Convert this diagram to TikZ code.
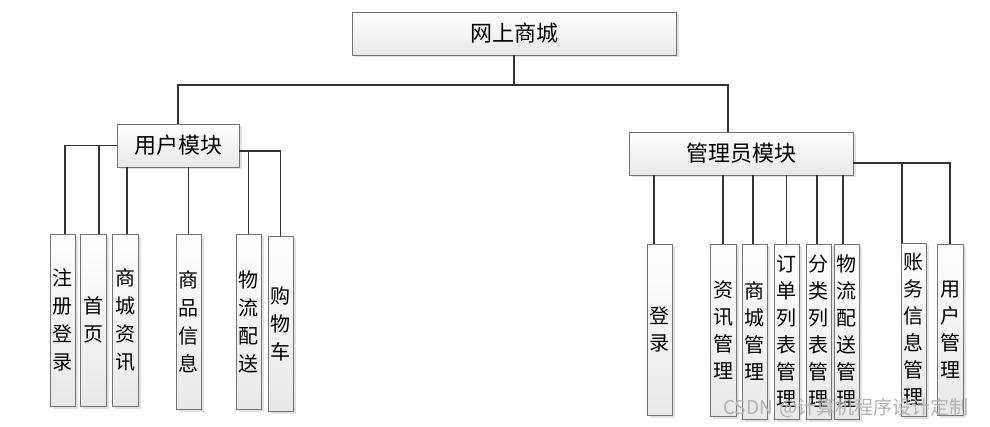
\documentclass[tikz,border=0pt]{standalone}
\usepackage{fontspec}
\setmainfont{Noto Sans CJK SC}
\usetikzlibrary{shadows}
\begin{document}
\begin{tikzpicture}[x=1pt,y=-1pt,
  box/.style={draw=black!55, line width=0.9pt, top color=white, bottom color=black!9,
    inner sep=0pt, drop shadow={shadow xshift=2.5pt, shadow yshift=-2.5pt, fill=black!22},
    font=\fontsize{22}{26}\selectfont},
  vbox/.style={box, align=center, font=\fontsize{20}{28}\selectfont},
  vboxr/.style={box, align=center, font=\fontsize{20}{27}\selectfont},
  link/.style={draw=black!80, line width=1.1pt}]
\useasboundingbox[fill=white] (0,0) rectangle (990,427);
% top levels
\node[box, minimum width=324pt, minimum height=43pt] (root) at (514,33.5) {网上商城};
\node[box, minimum width=122pt, minimum height=43pt] (user) at (178,145.5) {用户模块};
\node[box, minimum width=224pt, minimum height=43pt] (admin) at (741,153.5) {管理员模块};
% user children
\node[vbox, minimum width=25pt, minimum height=172pt] (c1) at (62.5,320) {注\\册\\登\\录};
\node[vbox, minimum width=26pt, minimum height=172pt] (c2) at (93,320) {首\\页};
\node[vbox, minimum width=26pt, minimum height=172pt] (c3) at (125,320) {商\\城\\资\\讯};
\node[vbox, minimum width=25pt, minimum height=175pt] (c4) at (188.5,321.5) {商\\品\\信\\息};
\node[vbox, minimum width=25pt, minimum height=175pt] (c5) at (248.5,321.5) {物\\流\\配\\送};
\node[vbox, minimum width=25pt, minimum height=175pt] (c6) at (280.5,323.5) {购\\物\\车};
% admin children
\node[vboxr, minimum width=25pt, minimum height=171pt] (a1) at (659.5,329.5) {登\\录};
\node[vboxr, minimum width=26pt, minimum height=172pt] (a2) at (723,330) {资\\讯\\管\\理};
\node[vboxr, minimum width=25pt, minimum height=175pt] (a3) at (754.5,331.5) {商\\城\\管\\理};
\node[vboxr, minimum width=25pt, minimum height=175pt] (a4) at (786.5,331.5) {订\\单\\列\\表\\管\\理};
\node[vboxr, minimum width=25pt, minimum height=175pt] (a5) at (818.5,331.5) {分\\类\\列\\表\\管\\理};
\node[vboxr, minimum width=25pt, minimum height=175pt] (a6) at (846.5,331.5) {物\\流\\配\\送\\管\\理};
\node[vboxr, minimum width=25pt, minimum height=173pt] (a7) at (913.5,329.5) {账\\务\\信\\息\\管\\理};
\node[vboxr, minimum width=26pt, minimum height=171pt] (a8) at (950,329.5) {用\\户\\管\\理};
% connectors
\coordinate (j0) at (514,85);
\draw[link] (root.south) -- (j0);
\draw[link] (j0) -| (user.north);
\draw[link] (j0) -| ([xshift=-13pt]admin.north);
\coordinate (ur) at ([yshift=-5.5pt]user.east);
\coordinate (ar) at ([yshift=-9.5pt]admin.east);
\draw[link] (user.west) -| ([xshift=2.5pt]c1.north);
\draw[link] ([xshift=6pt]c2.north) -- ([xshift=6pt]c2.north |- user.west);
\draw[link] ([xshift=2pt]c3.north) -- ([xshift=2pt]c3.north |- user.south);
\draw[link] (c4.north) -- (c4.north |- user.south);
\draw[link] (ur) -| (c6.north);
\draw[link] (c5.north) -- (c5.north |- ur);
\draw[link] ([xshift=-5.5pt]a1.north) -- ([xshift=-5.5pt]a1.north |- admin.south);
\draw[link] (a2.north) -- (a2.north |- admin.south);
\draw[link] ([xshift=-1.5pt]a3.north) -- ([xshift=-1.5pt]a3.north |- admin.south);
\draw[link] (a4.north) -- (a4.north |- admin.south);
\draw[link] ([xshift=-1.5pt]a5.north) -- ([xshift=-1.5pt]a5.north |- admin.south);
\draw[link] ([xshift=-3.5pt]a6.north) -- ([xshift=-3.5pt]a6.north |- admin.south);
\draw[link] (ar) -| (a8.north);
\draw[link] ([xshift=-11.5pt]a7.north) -- ([xshift=-11.5pt]a7.north |- ar);
% watermark
\node[text=black!30, font=\fontsize{19}{19}\selectfont, anchor=west, inner sep=0pt] (wm) at (723,408) {CSDN\,\,@计算机程序设计定制};
\end{tikzpicture}
\end{document}
